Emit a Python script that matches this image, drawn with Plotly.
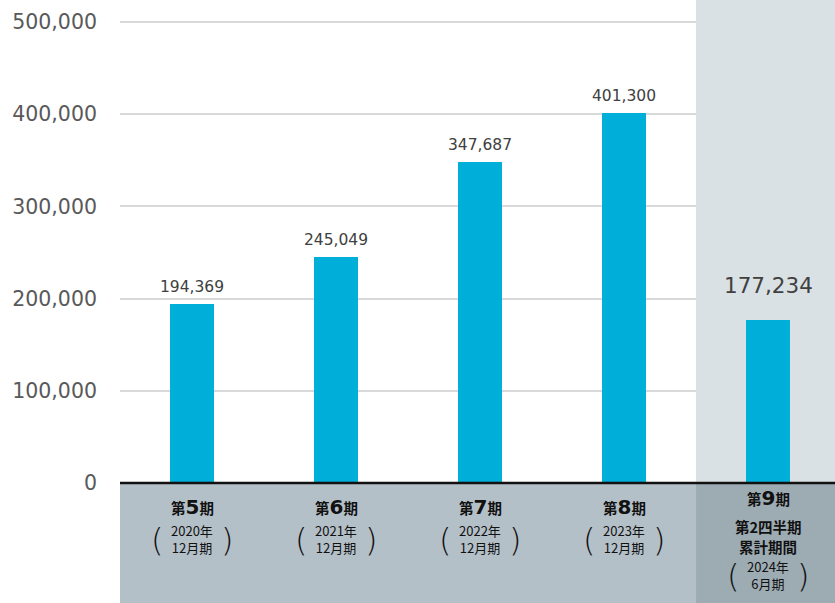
import plotly.graph_objects as go

# Net sales by fiscal period (thousand yen)
periods = ["第5期", "第6期", "第7期", "第8期", "第9期"]
period_nums = ["5", "6", "7", "8", "9"]
period_sub = [
    ["2020年", "12月期"],
    ["2021年", "12月期"],
    ["2022年", "12月期"],
    ["2023年", "12月期"],
    ["2024年", "6月期"],
]
values = [194369, 245049, 347687, 401300, 177234]
y_ticks = [0, 100000, 200000, 300000, 400000, 500000]

W, H = 835, 603
Y_MIN, Y_MAX = -130150, 523860

BAR = "#00afd9"
BAND = "#b4c0c8"
BAND_DARK = "#9dabb3"
SHADE = "#dae1e5"
JP = "Noto Sans CJK JP"
INK = "#111111"

x = list(range(len(periods)))

fig = go.Figure()
fig.add_trace(go.Bar(
    x=x, y=values, width=0.31,
    marker=dict(color=BAR, line=dict(width=0)),
    hoverinfo="skip",
))

shapes = [
    # shaded interim column above the axis
    dict(type="rect", xref="x", yref="y", x0=3.5, x1=4.6, y0=0, y1=Y_MAX,
         fillcolor=SHADE, line_width=0, layer="between"),
    # category band below the axis
    dict(type="rect", xref="x", yref="y", x0=-0.5, x1=3.5, y0=Y_MIN, y1=0,
         fillcolor=BAND, line_width=0, layer="between"),
    dict(type="rect", xref="x", yref="y", x0=3.5, x1=4.6, y0=Y_MIN, y1=0,
         fillcolor=BAND_DARK, line_width=0, layer="between"),
    # baseline
    dict(type="line", xref="x", yref="y", x0=-0.5, x1=4.6, y0=0, y1=0,
         line=dict(color=INK, width=2.5), layer="above"),
]

def py(pix):
    return 1 - pix / H

def label(i, y_pix, text, size, family=JP, **font):
    return dict(
        x=i, y=py(y_pix), xref="x", yref="paper", showarrow=False,
        text=text, yanchor="middle", borderpad=0,
        font=dict(family=family, size=size, color=INK, **font),
    )

annotations = []

# value labels above each bar
for i, v in enumerate(values):
    last = i == len(values) - 1
    annotations.append(dict(
        x=i, y=v, xref="x", yref="y", showarrow=False,
        text=f"{v:,}", yanchor="bottom",
        yshift=20 if last else 6,
        font=dict(family="DejaVu Sans", size=21.5 if last else 15.5,
                  color="#404040"),
    ))

# category labels in the band under the axis
for i, (num, sub) in enumerate(zip(period_nums, period_sub)):
    last = i == len(periods) - 1
    head_y = 498 if last else 507
    annotations.append(label(
        i, head_y,
        ("<b>第<span style='font-family:DejaVu Sans;font-size:20px'>"
         f"{num}</span>期</b>"), 14.5))
    sub_mid = 539
    if last:
        annotations.append(label(i, 526, "<b>第2四半期</b>", 14.5))
        annotations.append(label(i, 546, "<b>累計期間</b>", 14.5))
        sub_mid = 575
    annotations.append(label(i, sub_mid, f"{sub[0]}<br>{sub[1]}", 13))
    for sign, ch in ((-1, "("), (1, ")")):
        a = label(i, sub_mid + 1, ch, 32, family="DejaVu Sans", weight=200)
        a["xshift"] = sign * 35
        annotations.append(a)

fig.update_layout(
    width=W, height=H,
    margin=dict(l=120, r=0, t=0, b=0),
    paper_bgcolor="white", plot_bgcolor="white",
    showlegend=False,
    bargap=0,
    shapes=shapes,
    annotations=annotations,
    xaxis=dict(range=[-0.5, 4.465], showticklabels=False, showgrid=False,
               zeroline=False, showline=False, fixedrange=True),
    yaxis=dict(range=[Y_MIN, Y_MAX], tickvals=y_ticks,
               ticktext=[f"{t:,}" for t in y_ticks],
               tickfont=dict(family="DejaVu Sans", size=20.5, color="#595959"),
               ticklabelstandoff=22,
               showgrid=True, gridcolor="#d9d9d9", gridwidth=1.5,
               zeroline=False, showline=False, fixedrange=True),
)

fig.write_html("out.html")
